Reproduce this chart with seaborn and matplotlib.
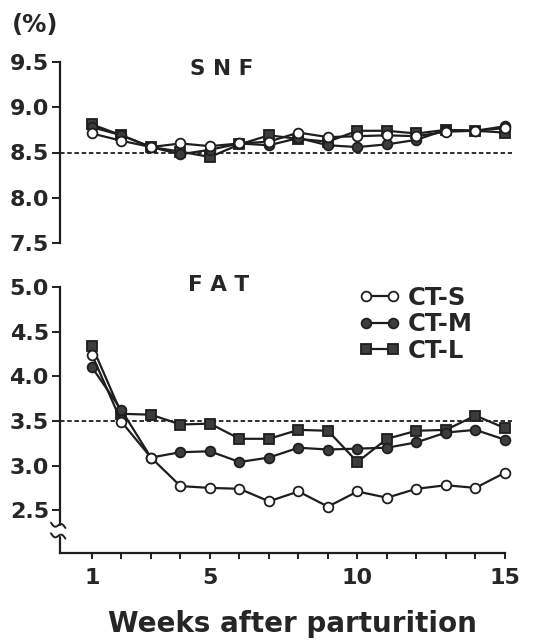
import numpy as np
import pandas as pd
import matplotlib
matplotlib.use("Agg")
import matplotlib.pyplot as plt
from matplotlib.lines import Line2D
import seaborn as sns

# ---------------- data ----------------
weeks = list(range(1, 16))
groups = ["CT-S", "CT-M", "CT-L"]

snf_s = [8.71, 8.63, 8.56, 8.60, 8.57, 8.60, 8.62, 8.72, 8.67, 8.68, 8.69, 8.68, 8.73, 8.74, 8.77]
snf_m = [8.78, 8.69, 8.56, 8.48, 8.53, 8.60, 8.58, 8.66, 8.58, 8.56, 8.59, 8.64, 8.75, 8.74, 8.79]
snf_l = [8.81, 8.69, 8.56, 8.51, 8.45, 8.59, 8.69, 8.65, 8.62, 8.74, 8.74, 8.71, 8.75, 8.74, 8.72]

fat_s = [4.24, 3.49, 3.09, 2.77, 2.75, 2.74, 2.60, 2.71, 2.54, 2.71, 2.64, 2.74, 2.78, 2.75, 2.92]
fat_m = [4.10, 3.62, 3.09, 3.15, 3.16, 3.04, 3.09, 3.20, 3.18, 3.19, 3.20, 3.26, 3.37, 3.40, 3.29]
fat_l = [4.34, 3.58, 3.57, 3.46, 3.47, 3.30, 3.30, 3.40, 3.39, 3.04, 3.30, 3.39, 3.40, 3.56, 3.42]

snf_ref = 8.5
fat_ref = 3.5
snf_yticks = [7.5, 8.0, 8.5, 9.0, 9.5]
fat_yticks = [2.5, 3.0, 3.5, 4.0, 4.5, 5.0]
x_labelled = [1, 5, 10, 15]

# ---------------- style ----------------
sns.set_theme(style="white")
plt.rcParams["font.family"] = ["DejaVu Sans"]
plt.rcParams["font.weight"] = "bold"

INK = "#1e1e1e"
TXT = "#262626"
MFILL = "#3c3c3c"

W, H = 538, 641
fig = plt.figure(figsize=(W / 100, H / 100), dpi=100)

def fx(px):
    return px / W

def fy(py):
    return 1 - py / H

ax1 = fig.add_axes([fx(60), fy(243), fx(512) - fx(60), fy(62) - fy(243)])
ax2 = fig.add_axes([fx(60), fy(553), fx(512) - fx(60), fy(287) - fy(553)])

styles = {
    "CT-S": dict(marker="o", markerfacecolor="white", zorder=5),
    "CT-M": dict(marker="o", markerfacecolor=MFILL, zorder=4),
    "CT-L": dict(marker="s", markerfacecolor=MFILL, zorder=3),
}

def draw(ax, series):
    for g, vals in zip(groups, series):
        st = styles[g]
        sns.lineplot(x=weeks, y=vals, ax=ax, color=INK, linewidth=1.6,
                     marker=st["marker"], markersize=7,
                     markerfacecolor=st["markerfacecolor"],
                     markeredgecolor=INK, markeredgewidth=1.3,
                     zorder=st["zorder"], legend=False)

draw(ax1, [snf_s, snf_m, snf_l])
draw(ax2, [fat_s, fat_m, fat_l])

for ax in (ax1, ax2):
    ax.set_xlim(-0.085, 15.24)
    for s in ["top", "right"]:
        ax.spines[s].set_visible(False)
    ax.spines["left"].set_color(INK)
    ax.spines["left"].set_linewidth(1.6)
    ax.tick_params(axis="y", direction="out", length=6, width=1.4, color=INK,
                   labelsize=16, labelcolor=TXT, pad=2, left=True)
    ax.set_xlabel("")
    ax.set_ylabel("")
    ax.patch.set_alpha(0)

# upper panel
ax1.set_ylim(7.5, 9.5)
ax1.set_yticks(snf_yticks)
ax1.set_yticklabels([f"{v:.1f}" for v in snf_yticks], fontweight="bold")
ax1.spines["bottom"].set_visible(False)
ax1.set_xticks([])
ax1.axhline(snf_ref, color=INK, lw=1.3, ls=(0, (2.5, 1.5)), zorder=1)
fig.text(fx(222), fy(69), "S N F", ha="center", va="center",
         fontsize=15.5, fontweight="bold", color=TXT)

# lower panel
ax2.set_ylim(2.021, 5.0)
ax2.set_yticks(fat_yticks)
ax2.set_yticklabels([f"{v:.1f}" for v in fat_yticks], fontweight="bold")
ax2.spines["bottom"].set_bounds(-0.085, 15)
ax2.spines["bottom"].set_color(INK)
ax2.spines["bottom"].set_linewidth(1.6)
ax2.set_xticks(weeks)
ax2.set_xticklabels([str(w) if w in x_labelled else "" for w in weeks], fontweight="bold")
ax2.tick_params(axis="x", direction="out", length=4, width=1.4, color=INK,
                labelsize=16, labelcolor=TXT, pad=7, bottom=True)
ax2.axhline(fat_ref, color=INK, lw=1.3, ls=(0, (2.5, 1.5)), zorder=1)

fig.text(fx(292), fy(632), "Weeks after parturition", ha="center", va="baseline",
         fontsize=20, fontweight="bold", color=TXT)

fig.text(fx(219), fy(285), "F A T", ha="center", va="center",
         fontsize=15.5, fontweight="bold", color=TXT)

# axis break mark on the lower y axis
t = np.linspace(-1, 1, 40)
for yc in (0.104, 0.064):
    xs = 0.016 * t - 0.004
    ys = yc + 0.012 * np.sin(np.pi * t) * 0.8 - 0.01 * t
    ax2.plot(xs, ys, transform=ax2.transAxes, color=INK, lw=1.4, clip_on=False, zorder=6)
ax2.fill_between([-0.006, 0.006], [0.068, 0.068], [0.1, 0.1], transform=ax2.transAxes,
                 color="white", zorder=5, clip_on=False)

# legend
handles = [
    Line2D([], [], color=INK, lw=1.6, marker=styles[g]["marker"], markersize=7,
           markerfacecolor=styles[g]["markerfacecolor"], markeredgecolor=INK,
           markeredgewidth=1.3)
    for g in groups
]
leg = ax2.legend(handles, groups, loc="upper left", bbox_to_anchor=(fx(359), fy(286)),
                 bbox_transform=fig.transFigure, frameon=False, numpoints=2,
                 handlelength=1.7, handletextpad=0.3, labelspacing=0.1,
                 borderpad=0, borderaxespad=0,
                 prop=dict(family="DejaVu Sans", weight="bold", size=17.5))
for txt in leg.get_texts():
    txt.set_color(TXT)

fig.text(fx(35), fy(25), "(%)", ha="center", va="center", fontsize=17.5,
         fontweight="bold", color=TXT)

fig.savefig("out.png", dpi=100, facecolor="white")
